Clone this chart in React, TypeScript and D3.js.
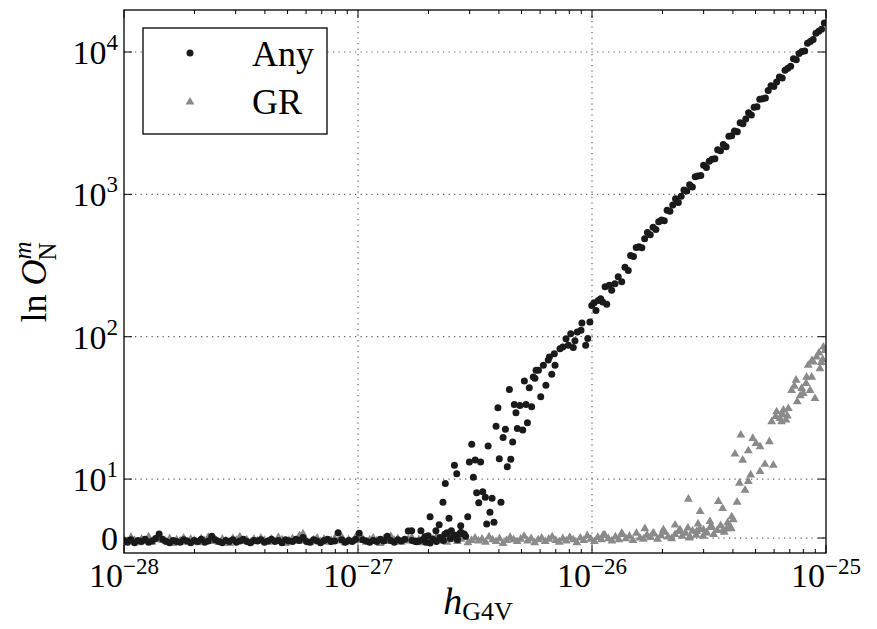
import React from "react";
import * as d3 from "d3";

// ---- tick values / labels ----
const xTickExps = [-28, -27, -26, -25];
const yTickValues = [0, 10, 100, 1000, 10000];
const yTickLabels: [string, string][] = [["0", ""], ["10", "1"], ["10", "2"], ["10", "3"], ["10", "4"]];
const legendLabels = ["Any", "GR"];

// ---- data: [log10 h, ln O] ----
const anyFlat: [number, number][] = [
  [-28.000,-0.5],[-27.985,-0.7],[-27.970,-0.3],[-27.955,-0.8],[-27.940,-0.4],[-27.925,-0.6],[-27.910,-0.2],[-27.895,-0.7],[-27.880,-0.5],[-27.865,-0.1],
  [-27.850,0.7],[-27.835,-0.2],[-27.820,-0.6],[-27.805,-0.8],[-27.790,-0.4],[-27.775,-0.6],[-27.760,-0.7],[-27.745,-0.3],[-27.730,-0.5],[-27.715,-0.8],
  [-27.700,-0.4],[-27.685,-0.6],[-27.670,-0.2],[-27.655,-0.7],[-27.640,-0.5],[-27.625,0.3],[-27.610,-0.3],[-27.595,-0.6],[-27.580,-0.8],[-27.565,-0.4],
  [-27.550,-0.6],[-27.535,-0.3],[-27.520,-0.7],[-27.505,-0.5],[-27.490,-0.2],[-27.475,-0.6],[-27.460,-0.8],[-27.445,-0.4],[-27.430,-0.5],[-27.415,-0.3],
  [-27.400,-0.7],[-27.385,-0.5],[-27.370,-0.2],[-27.355,-0.6],[-27.340,-0.4],[-27.325,-0.8],[-27.310,-0.3],[-27.295,-0.5],[-27.280,-0.6],[-27.265,-0.2],
  [-27.250,-0.4],[-27.235,0.1],[-27.220,-0.6],[-27.205,-0.7],[-27.190,-0.3],[-27.175,-0.5],[-27.160,-0.8],[-27.145,-0.4],[-27.130,-0.2],[-27.115,-0.6],
  [-27.100,-0.5],[-27.085,0.9],[-27.070,-0.3],[-27.055,-0.7],[-27.040,-0.4],[-27.025,-0.6],[-27.010,-0.2],[-26.995,0.8],[-26.980,-0.3],[-26.965,-0.5],
  [-26.950,-0.7],[-26.935,-0.4],[-26.920,-0.6],[-26.905,-0.2],[-26.890,-0.5],[-26.875,0.3],[-26.860,-0.4],[-26.845,-0.7],[-26.830,-0.3],[-26.815,-0.5],
  [-26.800,-0.2],[-26.785,1.2],[-26.770,-0.4],[-26.755,-0.6],
];

const anyRise: [number, number][] = [
  [-26.771,1.24],[-26.749,-0.63],[-26.731,1.24],[-26.740,-0.5],[-26.725,-0.3],[-26.714,0.22],[-26.710,-0.7],[-26.692,3.61],[-26.692,-0.85],[-26.700,0.4],
  [-26.680,-0.2],[-26.667,1.24],[-26.665,-0.6],[-26.653,2.25],[-26.650,0.1],[-26.637,6.05],[-26.635,-0.4],[-26.629,0.63],[-26.627,9.27],[-26.620,0.9],
  [-26.611,3.34],[-26.605,-0.1],[-26.601,1.24],[-26.590,0.5],[-26.588,12.5],[-26.578,10.9],[-26.575,-0.3],[-26.567,0.68],[-26.561,2.08],[-26.560,1.0],
  [-26.546,0.68],[-26.540,0.3],[-26.531,3.61],[-26.524,13.2],[-26.514,17.6],[-26.507,10.3],[-26.499,13.6],[-26.493,7.68],[-26.484,5.98],[-26.476,13.2],
  [-26.467,7.85],[-26.456,6.9],[-26.450,2.37],[-26.444,17.1],[-26.436,4.36],[-26.427,6.73],[-26.419,2.66],[-26.410,23.5],[-26.402,31.7],[-26.396,13.9],
  [-26.389,6.05],[-26.380,19.6],[-26.370,22.4],[-26.362,12.2],[-26.353,42.6],[-26.347,13.8],[-26.339,18.2],[-26.332,33.4],[-26.325,29.2],[-26.319,22.7],
  [-26.308,32.9],[-26.296,22.1],[-26.289,48.9],[-26.282,33.4],[-26.276,24.9],[-26.268,43.8],[-26.258,32.2],[-26.251,52.2],[-26.244,51.1],[-26.239,58.2],
  [-26.229,58.2],[-26.219,37.8],[-26.208,63.1],[-26.197,45.6],[-26.187,68.5],[-26.182,72.1],[-26.172,54.6],[-26.161,76.0],[-26.158,63.1],[-26.137,82.4],
  [-26.125,84.6],[-26.111,96.9],[-26.101,87.0],[-26.091,105],[-26.080,84],[-26.073,93.6],[-26.063,108],[-26.047,111],[-26.043,125],[-26.027,87],
  [-26.018,97],[-26.009,127],[-26.001,166],[-25.991,173],[-25.983,153],[-25.973,180],[-25.963,185],[-25.954,175],[-25.944,224],[-25.937,169],
  [-25.926,230],[-25.916,212],[-25.902,236],[-25.888,264],[-25.873,243],[-25.859,308],[-25.845,292],
];

const anyLine: [number, number][] = [
  [-25.835,372],[-25.823,366],[-25.811,424],[-25.799,428],[-25.787,422],[-25.775,488],[-25.763,540],[-25.751,520],[-25.739,587],[-25.727,566],
  [-25.715,641],[-25.703,661],[-25.691,652],[-25.679,773],[-25.667,760],[-25.655,841],[-25.643,931],[-25.631,875],[-25.619,968],[-25.607,1072],
  [-25.595,1054],[-25.583,1167],[-25.571,1125],[-25.559,1330],[-25.547,1343],[-25.535,1355],[-25.523,1603],[-25.511,1545],[-25.499,1710],[-25.487,1762],
  [-25.475,1778],[-25.463,2061],[-25.451,2028],[-25.439,2244],[-25.427,2163],[-25.415,2559],[-25.403,2582],[-25.391,2786],[-25.379,2748],[-25.367,3184],
  [-25.355,3133],[-25.343,3388],[-25.331,3750],[-25.319,3606],[-25.307,4083],[-25.295,4121],[-25.283,4656],[-25.271,4699],[-25.259,4742],[-25.247,5358],
  [-25.235,5794],[-25.223,5715],[-25.211,6166],[-25.199,6668],[-25.187,6577],[-25.175,7430],[-25.163,7674],[-25.151,7925],[-25.139,8954],[-25.127,8831],
  [-25.115,9772],[-25.103,10070],[-25.091,10160],[-25.079,11510],[-25.067,11860],[-25.055,12250],[-25.043,13550],[-25.031,13960],[-25.019,14420],[-25.007,15960],
];

const grFlat: [number, number][] = [
  [-28.000,-0.3],[-27.985,-0.6],[-27.970,0.1],[-27.955,-0.4],[-27.940,-0.8],[-27.925,-0.2],[-27.910,-0.5],[-27.895,0.2],[-27.880,-0.7],[-27.865,-0.3],
  [-27.850,0.3],[-27.835,-0.4],[-27.820,-0.6],[-27.805,-0.1],[-27.790,-0.9],[-27.775,-0.3],[-27.760,-0.5],[-27.745,0.0],[-27.730,-0.7],[-27.715,-0.2],
  [-27.700,-0.4],[-27.685,-0.8],[-27.670,-0.1],[-27.655,-0.5],[-27.640,0.1],[-27.625,-0.6],[-27.610,-0.3],[-27.595,-0.7],[-27.580,-0.2],[-27.565,-0.5],
  [-27.550,-0.9],[-27.535,-0.1],[-27.520,-0.4],[-27.505,0.2],[-27.490,-0.6],[-27.475,-0.3],[-27.460,-0.8],[-27.445,-0.2],[-27.430,-0.5],[-27.415,0.0],
  [-27.400,-0.4],[-27.385,-0.7],[-27.370,-0.2],[-27.355,-0.6],[-27.340,0.1],[-27.325,-0.3],[-27.310,-0.9],[-27.295,-0.4],[-27.280,-0.1],[-27.265,-0.6],
  [-27.250,0.4],[-27.235,0.7],[-27.220,-0.5],[-27.205,-0.8],[-27.190,-0.3],[-27.175,0.0],[-27.160,-0.6],[-27.145,-0.2],[-27.130,-0.7],[-27.115,-0.4],
  [-27.100,-0.1],[-27.085,-0.5],[-27.070,0.2],[-27.055,-0.8],[-27.040,-0.3],[-27.025,-0.6],[-27.010,0.1],[-26.995,-0.4],[-26.980,-0.2],[-26.965,-0.7],
  [-26.950,-0.3],[-26.935,0.0],[-26.920,-0.5],[-26.905,-0.9],[-26.890,-0.2],[-26.875,-0.6],[-26.860,0.3],[-26.845,-0.4],[-26.830,-0.1],[-26.815,-0.7],
  [-26.800,-0.5],[-26.785,-0.2],[-26.770,0.1],[-26.755,-0.6],[-26.740,-0.3],[-26.725,-0.8],[-26.710,0.0],[-26.695,-0.4],[-26.680,-0.2],[-26.665,0.2],
  [-26.650,-0.5],[-26.635,-0.1],[-26.620,-0.7],[-26.605,0.3],[-26.590,-0.3],[-26.575,-0.6],[-26.560,-0.2],[-26.545,0.1],[-26.530,-0.8],[-26.515,-0.4],
  [-26.500,0.0],[-26.485,-0.5],[-26.470,-0.2],[-26.455,-0.7],[-26.440,0.2],[-26.425,-0.3],[-26.410,-0.6],[-26.395,-0.1],[-26.380,-0.9],[-26.365,-0.4],
  [-26.350,0.1],[-26.335,-0.3],[-26.320,-0.6],[-26.305,-0.2],[-26.290,0.3],[-26.275,-0.5],[-26.260,-0.1],[-26.245,-0.8],[-26.230,-0.3],[-26.215,0.0],
  [-26.200,-0.6],[-26.185,-0.2],[-26.170,0.2],[-26.155,-0.4],[-26.140,-0.7],[-26.125,-0.1],[-26.110,-0.5],[-26.095,0.1],[-26.080,-0.3],[-26.065,-0.8],
  [-26.050,0.0],[-26.035,-0.4],[-26.020,0.4],[-26.005,-0.2],[-25.990,-0.6],[-25.975,0.1],[-25.960,-0.3],[-25.945,0.5],[-25.930,-0.1],[-25.915,-0.5],
  [-25.900,0.2],[-25.885,-0.3],[-25.870,0.6],[-25.855,-0.1],[-25.840,0.3],[-25.825,-0.4],[-25.810,0.8],[-25.795,0.0],[-25.780,-0.2],[-25.765,0.5],
  [-25.750,0.1],[-25.735,0.7],[-25.720,-0.2],[-25.705,0.4],[-25.690,1.0],[-25.675,0.2],[-25.660,-0.1],[-25.645,0.6],[-25.630,1.1],[-25.615,0.3],
  [-25.600,0.8],[-25.585,0.0],[-25.570,1.2],[-25.555,0.5],[-25.540,1.5],[-25.525,0.3],[-25.510,0.9],[-25.495,1.8],[-25.480,0.6],[-25.465,1.3],
  [-25.450,2.1],[-25.435,1.0],[-25.420,2.6],[-25.405,1.6],
];

const grRise: [number, number][] = [
  [-25.952,0.5],[-25.873,0.8],[-25.774,1.6],[-25.739,0.85],[-25.695,1.4],[-25.645,2.2],[-25.624,1.4],[-25.588,6.6],[-25.590,1.7],[-25.581,0.2],
  [-25.553,1.1],[-25.547,2.4],[-25.538,4.5],[-25.524,1.4],[-25.510,0.85],[-25.496,2.8],[-25.488,1.9],[-25.460,6.2],[-25.442,5.0],[-25.439,1.4],
  [-25.424,1.6],[-25.410,1.9],[-25.403,3.6],[-25.396,3.1],[-25.389,15.0],[-25.380,6.1],[-25.370,9.3],[-25.364,20.4],[-25.356,13.6],[-25.346,8.1],
  [-25.332,15.8],[-25.332,9.6],[-25.322,10.7],[-25.313,19.3],[-25.299,17.8],[-25.282,16.9],[-25.282,11.3],[-25.261,12.7],[-25.242,18.3],[-25.232,25.3],
  [-25.225,12.5],[-25.215,27.5],[-25.211,29.7],[-25.197,26.7],[-25.190,25.3],[-25.186,28.5],[-25.182,30.5],[-25.171,26],[-25.165,27.8],[-25.161,31.3],
  [-25.147,42],[-25.135,45],[-25.128,49.5],[-25.123,35],[-25.110,38.5],[-25.104,43.3],[-25.097,40],[-25.085,47],[-25.083,52],[-25.076,63],
  [-25.068,42],[-25.061,52],[-25.060,68],[-25.054,66.5],[-25.047,36.8],[-25.040,72],[-25.030,77],[-25.026,59.7],[-25.020,66],[-25.014,69],
  [-25.011,84.6],[-25.004,80],
];

// ---- layout ----
const W = 877;
const H = 629;
const P = { left: 124, right: 826, top: 10, bottom: 553 };
const LIN = 0.414; // decades occupied by the linear part 0..10 of the symlog axis
const symT = (v: number) => (v <= 10 ? (v / 10) * LIN : LIN + Math.log10(v / 10));

const xScale = d3.scaleLog().domain([1e-28, 1e-25]).range([P.left, P.right]);
const yLin = d3.scaleLinear().domain([symT(-2.54), symT(19720)]).range([P.bottom, P.top]);
const yScale = (v: number) => yLin(symT(v));

const FONT = "'Liberation Serif', 'DejaVu Serif', serif";

export default function App() {
  const tri = d3.symbol().type(d3.symbolTriangle).size(34)() as string;
  const anyPts = [...anyFlat, ...anyRise, ...anyLine];
  const grPts = [...grFlat, ...grRise];
  const minorX: number[] = [];
  for (let n = -28; n < -25; n++) for (let k = 2; k <= 9; k++) minorX.push(k * Math.pow(10, n));
  const grid = "#666";

  return (
    <svg width={W} height={H} style={{ position: "absolute", left: 0, top: 0, background: "#fff" }} fontFamily={FONT}>
      <defs>
        <clipPath id="plotclip">
          <rect x={P.left} y={P.top} width={P.right - P.left} height={P.bottom - P.top} />
        </clipPath>
      </defs>
      <rect x={0} y={0} width={W} height={H} fill="#fff" />

      {/* grid */}
      {xTickExps.slice(1, 3).map((e) => (
        <line key={"gx" + e} x1={xScale(Math.pow(10, e))} x2={xScale(Math.pow(10, e))} y1={P.top} y2={P.bottom}
          stroke={grid} strokeWidth={1.2} strokeDasharray="1.3,4.2" />
      ))}
      {yTickValues.map((v) => (
        <line key={"gy" + v} x1={P.left} x2={P.right} y1={yScale(v)} y2={yScale(v)}
          stroke={grid} strokeWidth={1.2} strokeDasharray="1.3,4.2" />
      ))}

      {/* points */}
      <g clipPath="url(#plotclip)">
        {grPts.map(([e, v], i) => (
          <path key={"g" + i} d={tri} transform={`translate(${xScale(Math.pow(10, e))},${yScale(v)})`} fill="#8a8a8a" />
        ))}
        {anyPts.map(([e, v], i) => (
          <circle key={"a" + i} cx={xScale(Math.pow(10, e))} cy={yScale(v)} r={3.5} fill="#1a1a1a" />
        ))}
      </g>

      {/* frame */}
      <rect x={P.left} y={P.top} width={P.right - P.left} height={P.bottom - P.top} fill="none" stroke="#000" strokeWidth={1.3} />

      {/* x ticks */}
      {xTickExps.map((e) => {
        const xx = xScale(Math.pow(10, e));
        return (
          <g key={"xt" + e}>
            <line x1={xx} x2={xx} y1={P.bottom} y2={P.bottom - 8} stroke="#000" strokeWidth={1} />
            <line x1={xx} x2={xx} y1={P.top} y2={P.top + 8} stroke="#000" strokeWidth={1} />
            <text x={xx} y={587} textAnchor="middle" fontSize={34} fill="#000">
              <tspan>10</tspan>
              <tspan fontSize={23} dy={-13}>{"\u2212" + String(-e)}</tspan>
            </text>
          </g>
        );
      })}
      {minorX.map((v, i) => {
        const xx = xScale(v);
        return (
          <g key={"xm" + i}>
            <line x1={xx} x2={xx} y1={P.bottom} y2={P.bottom - 4} stroke="#000" strokeWidth={1} />
            <line x1={xx} x2={xx} y1={P.top} y2={P.top + 4} stroke="#000" strokeWidth={1} />
          </g>
        );
      })}

      {/* y ticks */}
      {yTickValues.map((v, i) => {
        const yy = yScale(v);
        const [base, sup] = yTickLabels[i];
        return (
          <g key={"yt" + v}>
            <line x1={P.left} x2={P.left + 8} y1={yy} y2={yy} stroke="#000" strokeWidth={1} />
            <line x1={P.right} x2={P.right - 8} y1={yy} y2={yy} stroke="#000" strokeWidth={1} />
            <text x={118} y={yy + 12} textAnchor="end" fontSize={34} fill="#000">
              <tspan>{base}</tspan>
              {sup ? <tspan fontSize={23} dy={-14}>{sup}</tspan> : null}
            </text>
          </g>
        );
      })}

      {/* axis labels */}
      <text x={478} y={614} textAnchor="middle" fontSize={38} fill="#000">
        <tspan fontStyle="italic">h</tspan>
        <tspan fontSize={26} dy={6}>G4V</tspan>
      </text>
      <text transform="translate(46,282) rotate(-90)" textAnchor="middle" fontSize={36} fill="#000">
        <tspan>ln </tspan>
        <tspan fontStyle="italic">O</tspan>
        <tspan fontSize={25} fontStyle="italic" dy={-15}>m</tspan>
        <tspan fontSize={25} dx={-19} dy={25}>N</tspan>
      </text>

      {/* legend */}
      <rect x={143} y={28} width={184} height={106} fill="#fff" stroke="#000" strokeWidth={1.3} />
      <circle cx={190} cy={53} r={3.5} fill="#1a1a1a" />
      <path d={tri} transform="translate(190,102)" fill="#8a8a8a" />
      <text x={252} y={66} fontSize={36} fill="#000">{legendLabels[0]}</text>
      <text x={252} y={114} fontSize={36} fill="#000">{legendLabels[1]}</text>
    </svg>
  );
}
